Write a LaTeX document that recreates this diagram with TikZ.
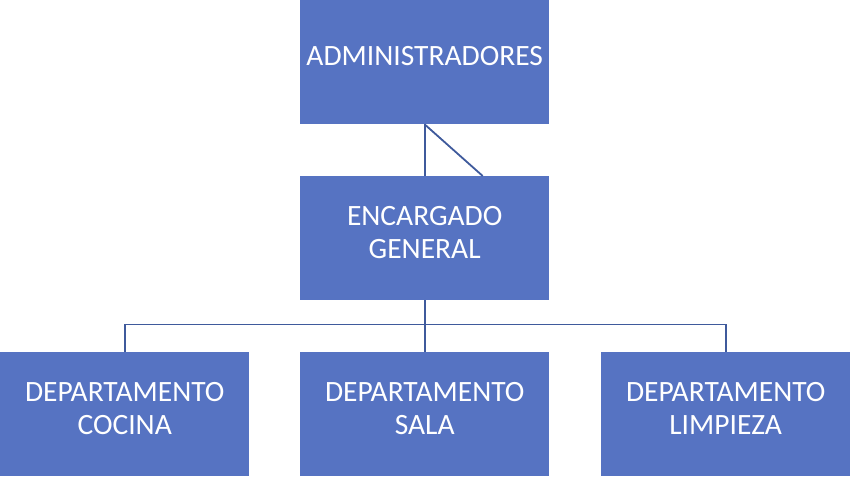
\documentclass[tikz,border=0pt]{standalone}
\usepackage{fontspec}
\setmainfont{Carlito}
\definecolor{boxblue}{HTML}{5673C2}
\definecolor{lineblue}{HTML}{3F5A9C}
\begin{document}
\begin{tikzpicture}[x=1pt,y=-1pt,
  orgbox/.style={fill=boxblue,draw=none,text=white,minimum width=249pt,minimum height=124pt,inner sep=0pt,align=center,font=\fontsize{29.5}{33}\selectfont,anchor=north west,execute at end node={\rule[-12pt]{0pt}{0pt}}},
  conn/.style={draw=lineblue,line width=1.8pt}]
\useasboundingbox (0,0) rectangle (850,476);
\node[orgbox] (adm) at (300,0) {ADMINISTRADORES};
\node[orgbox] (enc) at (300,176) {ENCARGADO\\GENERAL};
\node[orgbox] (coc) at (0,352) {DEPARTAMENTO\\COCINA};
\node[orgbox] (sal) at (300,352) {DEPARTAMENTO\\SALA};
\node[orgbox] (lim) at (601,352) {DEPARTAMENTO\\LIMPIEZA};
\coordinate (diag) at ([xshift=58pt]enc.north);
\coordinate (bar) at (0,324.5);
\draw[conn] (adm.south) -- (enc.north);
\draw[conn] (adm.south) -- (diag);
\draw[conn] (enc.south) -- (sal.north);
\draw[conn] (coc.north) -- (coc.north |- bar) -- (lim.north |- bar) -- (lim.north);
\end{tikzpicture}
\end{document}
